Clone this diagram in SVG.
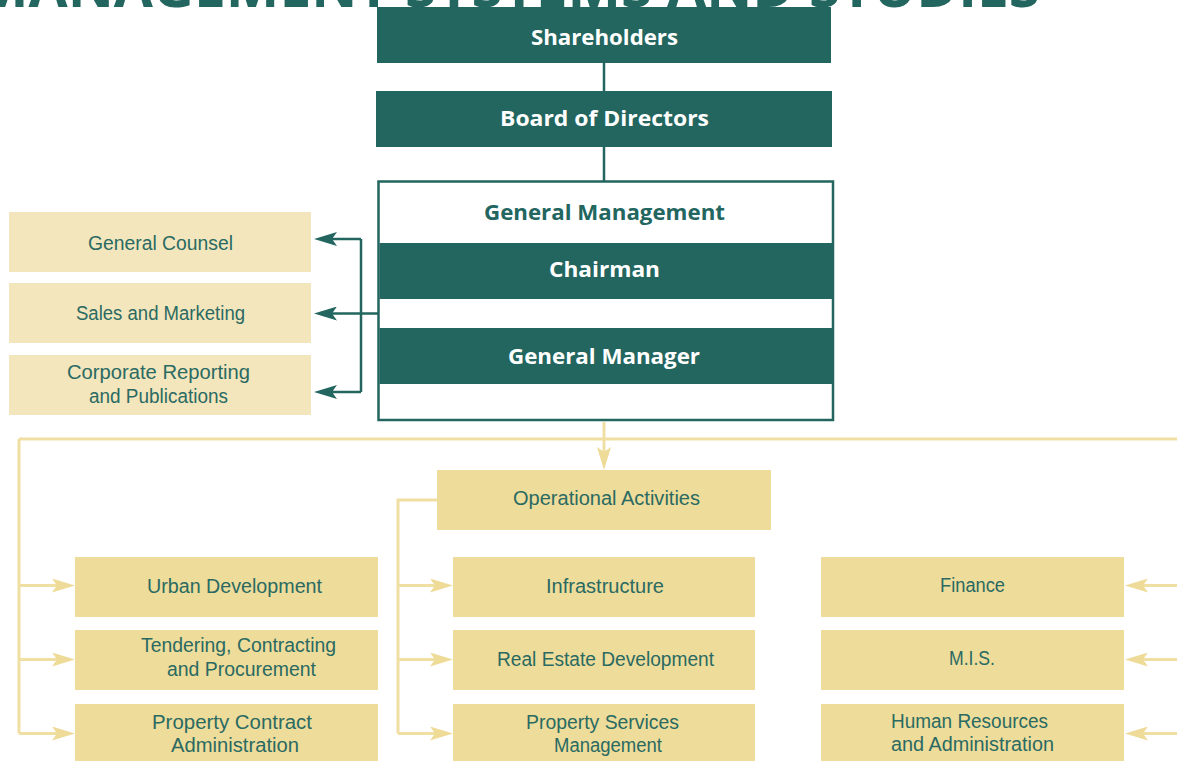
<svg xmlns="http://www.w3.org/2000/svg" width="1177" height="761" viewBox="0 0 1177 761">
<style>
.title{font-family:"Open Sans","Liberation Sans",sans-serif;font-weight:700;font-size:55px;fill:#22665F}
.dark{fill:#23665F}
.pale{fill:#F3E6BD}
.gold{fill:#EEDC9A}
.hd{font-family:"Open Sans","Liberation Sans",sans-serif;font-weight:700;font-size:22px;fill:#FFFFFF;text-anchor:middle}
.hdt{font-family:"Open Sans","Liberation Sans",sans-serif;font-weight:700;font-size:22px;fill:#22665F;text-anchor:middle}
.lb{font-family:"Liberation Sans","Open Sans",sans-serif;font-weight:400;font-size:20px;fill:#2A6A62;text-anchor:middle}
.tl{stroke:#23665F;stroke-width:2.5;fill:none}
.yl{stroke:#EFDFA2;stroke-width:3;fill:none}
</style>
<defs>
<marker id="at" markerUnits="userSpaceOnUse" viewBox="0 0 23 14" refX="13" refY="7" markerWidth="23" markerHeight="14" orient="auto">
<path d="M0,0 L23,7 L0,14 L5,7 Z" fill="#23665F"/>
</marker>
<marker id="ay" markerUnits="userSpaceOnUse" viewBox="0 0 23 14" refX="13" refY="7" markerWidth="23" markerHeight="14" orient="auto">
<path d="M0,0 L23,7 L0,14 L5,7 Z" fill="#EEDB97"/>
</marker>
</defs>
<rect width="1177" height="761" fill="#FFFFFF"/>
<text class="title" x="-25" y="7" textLength="1065" lengthAdjust="spacingAndGlyphs">MANAGEMENT SYSTEMS AND STUDIES</text>

<g id="connectors">
<line class="tl" x1="604" y1="63" x2="604" y2="91"/>
<line class="tl" x1="604" y1="147" x2="604" y2="181"/>
<line class="tl" x1="378" y1="313.5" x2="361" y2="313.5"/>
<line class="tl" x1="361" y1="239" x2="361" y2="392"/>
<line class="tl" x1="361" y1="239" x2="324" y2="239" marker-end="url(#at)"/>
<line class="tl" x1="361" y1="313.5" x2="324" y2="313.5" marker-end="url(#at)"/>
<line class="tl" x1="361" y1="392" x2="324" y2="392" marker-end="url(#at)"/>

<line class="yl" x1="19" y1="439" x2="1177" y2="439"/>
<line class="yl" x1="604" y1="422" x2="604" y2="460" marker-end="url(#ay)"/>
<polyline class="yl" points="19,439 19,733.5"/>
<line class="yl" x1="19" y1="585.5" x2="65" y2="585.5" marker-end="url(#ay)"/>
<line class="yl" x1="19" y1="659.5" x2="65" y2="659.5" marker-end="url(#ay)"/>
<line class="yl" x1="19" y1="733.5" x2="65" y2="733.5" marker-end="url(#ay)"/>
<polyline class="yl" points="437,500 398,500 398,733.5"/>
<line class="yl" x1="398" y1="585.5" x2="443" y2="585.5" marker-end="url(#ay)"/>
<line class="yl" x1="398" y1="659.5" x2="443" y2="659.5" marker-end="url(#ay)"/>
<line class="yl" x1="398" y1="733.5" x2="443" y2="733.5" marker-end="url(#ay)"/>
<line class="yl" x1="1177" y1="585.5" x2="1135" y2="585.5" marker-end="url(#ay)"/>
<line class="yl" x1="1177" y1="659.5" x2="1135" y2="659.5" marker-end="url(#ay)"/>
<line class="yl" x1="1177" y1="733.5" x2="1135" y2="733.5" marker-end="url(#ay)"/>
</g>

<g id="shareholders">
<rect class="dark" x="377" y="7" width="454" height="56"/>
<text class="hd" x="604.5" y="44.5" textLength="147" lengthAdjust="spacingAndGlyphs">Shareholders</text>
</g>
<g id="board">
<rect class="dark" x="376" y="91" width="456" height="56"/>
<text class="hd" x="604.5" y="126" textLength="209" lengthAdjust="spacingAndGlyphs">Board of Directors</text>
</g>
<g id="general-management">
<rect x="378.5" y="181.5" width="454.5" height="238.5" fill="#FFFFFF" stroke="#23665F" stroke-width="2.5"/>
<text class="hdt" x="604.5" y="220" textLength="241" lengthAdjust="spacingAndGlyphs">General Management</text>
<g id="chairman">
<rect class="dark" x="379.5" y="243" width="452.5" height="56"/>
<text class="hd" x="604.5" y="277" textLength="111" lengthAdjust="spacingAndGlyphs">Chairman</text>
</g>
<g id="general-manager">
<rect class="dark" x="379.5" y="328" width="452.5" height="56"/>
<text class="hd" x="604" y="363.5" textLength="192" lengthAdjust="spacingAndGlyphs">General Manager</text>
</g>
</g>

<g id="general-counsel">
<rect class="pale" x="9" y="212" width="302" height="60"/>
<text class="lb" x="160.5" y="250" textLength="145" lengthAdjust="spacingAndGlyphs">General Counsel</text>
</g>
<g id="sales-marketing">
<rect class="pale" x="9" y="283" width="302" height="60"/>
<text class="lb" x="160.5" y="320" textLength="169" lengthAdjust="spacingAndGlyphs">Sales and Marketing</text>
</g>
<g id="corporate-reporting">
<rect class="pale" x="9" y="355" width="302" height="60"/>
<text class="lb" x="158.5" y="379" textLength="183" lengthAdjust="spacingAndGlyphs">Corporate Reporting</text>
<text class="lb" x="158.5" y="403" textLength="139" lengthAdjust="spacingAndGlyphs">and Publications</text>
</g>

<g id="operational-activities">
<rect class="gold" x="437" y="470" width="334" height="60"/>
<text class="lb" x="606.5" y="505" textLength="187" lengthAdjust="spacingAndGlyphs">Operational Activities</text>
</g>

<g id="urban-development">
<rect class="gold" x="75" y="557" width="303" height="60"/>
<text class="lb" x="234.5" y="593" textLength="175" lengthAdjust="spacingAndGlyphs">Urban Development</text>
</g>
<g id="tendering">
<rect class="gold" x="75" y="630" width="303" height="60"/>
<text class="lb" x="238.5" y="652" textLength="195" lengthAdjust="spacingAndGlyphs">Tendering, Contracting</text>
<text class="lb" x="241.5" y="676" textLength="149" lengthAdjust="spacingAndGlyphs">and Procurement</text>
</g>
<g id="property-contract">
<rect class="gold" x="75" y="704" width="303" height="57"/>
<text class="lb" x="232" y="729" textLength="160" lengthAdjust="spacingAndGlyphs">Property Contract</text>
<text class="lb" x="235" y="752" textLength="128" lengthAdjust="spacingAndGlyphs">Administration</text>
</g>

<g id="infrastructure">
<rect class="gold" x="453" y="557" width="302" height="60"/>
<text class="lb" x="605" y="593" textLength="118" lengthAdjust="spacingAndGlyphs">Infrastructure</text>
</g>
<g id="real-estate">
<rect class="gold" x="453" y="630" width="302" height="60"/>
<text class="lb" x="605.5" y="665.5" textLength="217" lengthAdjust="spacingAndGlyphs">Real Estate Development</text>
</g>
<g id="property-services">
<rect class="gold" x="453" y="704" width="302" height="57"/>
<text class="lb" x="602.5" y="729" textLength="153" lengthAdjust="spacingAndGlyphs">Property Services</text>
<text class="lb" x="608" y="752" textLength="108" lengthAdjust="spacingAndGlyphs">Management</text>
</g>

<g id="finance">
<rect class="gold" x="821" y="557" width="303" height="60"/>
<text class="lb" x="972.5" y="592" textLength="65" lengthAdjust="spacingAndGlyphs">Finance</text>
</g>
<g id="mis">
<rect class="gold" x="821" y="630" width="303" height="60"/>
<text class="lb" x="972" y="665" textLength="46" lengthAdjust="spacingAndGlyphs">M.I.S.</text>
</g>
<g id="human-resources">
<rect class="gold" x="821" y="704" width="303" height="57"/>
<text class="lb" x="969.5" y="728" textLength="157" lengthAdjust="spacingAndGlyphs">Human Resources</text>
<text class="lb" x="972.5" y="751" textLength="163" lengthAdjust="spacingAndGlyphs">and Administration</text>
</g>
</svg>
